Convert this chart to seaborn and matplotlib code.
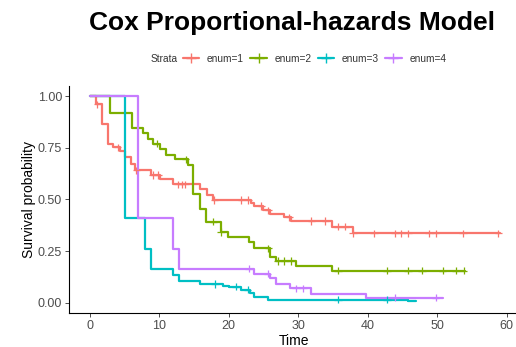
import numpy as np
import pandas as pd
import matplotlib
matplotlib.use("Agg")
import matplotlib.pyplot as plt
from matplotlib.lines import Line2D
import seaborn as sns

# ---------------- data ----------------
strata = ["enum=1", "enum=2", "enum=3", "enum=4"]
colors = ["#F8766D", "#7CAE00", "#00BFC4", "#C77CFF"]

# event times and survival after each event
t1 = [0, 0.9, 1.8, 2.6, 3.4, 4.3, 5.0, 5.9, 6.5, 8.8, 10.1, 12.0, 15.8, 16.8, 17.7,
      23.2, 23.7, 24.9, 26.0, 28.0, 28.9, 34.8, 37.9]
s1 = [1.0, 0.961, 0.868, 0.771, 0.752, 0.734, 0.706, 0.671, 0.642, 0.618, 0.597, 0.573,
      0.553, 0.521, 0.497, 0.484, 0.468, 0.448, 0.429, 0.413, 0.395, 0.368, 0.336]
c1 = [1.1, 4.0, 6.7, 9.1, 9.8, 12.7, 13.2, 13.7, 17.9, 21.8, 22.8, 24.7, 25.7, 28.7,
      31.9, 33.9, 35.7, 36.8, 37.9, 40.9, 43.9, 44.8, 45.8, 48.8, 49.8, 53.7, 58.8]
end1 = 59.0

t2 = [0, 2.9, 6.0, 7.7, 8.4, 9.1, 10.1, 11.0, 12.2, 14.1, 14.9, 15.8, 16.7, 18.9, 19.9,
      22.9, 23.7, 25.9, 26.8, 29.7, 34.9]
s2 = [1.0, 0.921, 0.847, 0.820, 0.795, 0.771, 0.744, 0.718, 0.695, 0.666, 0.529, 0.455,
      0.392, 0.343, 0.316, 0.295, 0.263, 0.222, 0.202, 0.179, 0.155]
c2 = [9.6, 13.8, 17.8, 18.9, 25.7, 27.1, 28.0, 28.9, 35.7, 42.8, 45.8, 47.8, 50.8, 52.7, 53.8]
end2 = 54.0

t3 = [0, 5.0, 7.9, 8.8, 12.0, 12.9, 15.9, 19.1, 20.1, 21.8, 23.0, 23.7, 25.7, 45.8]
s3 = [1.0, 0.410, 0.258, 0.164, 0.134, 0.103, 0.091, 0.083, 0.077, 0.063, 0.045, 0.027,
      0.014, 0.007]
c3 = [18.0, 21.0, 22.7, 35.7, 42.8]
end3 = 46.9

t4 = [0, 7.0, 12.0, 12.9, 23.7, 26.0, 26.8, 28.8, 31.9, 39.8]
s4 = [1.0, 0.410, 0.258, 0.165, 0.141, 0.118, 0.092, 0.069, 0.044, 0.024]
c4 = [22.9, 25.6, 29.7, 30.7, 43.9, 49.8]
end4 = 50.8

x_ticks = [0, 10, 20, 30, 40, 50, 60]
y_ticks = [0.00, 0.25, 0.50, 0.75, 1.00]
y_ticklabels = ["0.00", "0.25", "0.50", "0.75", "1.00"]

title = "Cox Proportional-hazards Model"
xlabel = "Time"
ylabel = "Survival probability"
legend_title = "Strata"

# ---------------- build tables ----------------
curve_rows = []
cens_rows = []
for name, tt, ss, cc, te in [(strata[0], t1, s1, c1, end1), (strata[1], t2, s2, c2, end2),
                             (strata[2], t3, s3, c3, end3), (strata[3], t4, s4, c4, end4)]:
    for a, b in zip(tt, ss):
        curve_rows.append((name, a, b))
    curve_rows.append((name, te, ss[-1]))
    tt_arr = np.array(tt)
    for c in cc:
        idx = np.searchsorted(tt_arr, c, side="right") - 1
        cens_rows.append((name, c, ss[idx]))
curves = pd.DataFrame(curve_rows, columns=["strata", "time", "surv"])
cens = pd.DataFrame(cens_rows, columns=["strata", "time", "surv"])

# ---------------- plot ----------------
sns.set_theme(style="white")
plt.rcParams["font.family"] = ["Liberation Sans", "DejaVu Sans"]

W, H = 516, 347
fig = plt.figure(figsize=(W / 100, H / 100), dpi=100)
ax_l, ax_r, ax_t, ax_b = 69, 515, 86, 313
ax = fig.add_axes([ax_l / W, 1 - ax_b / H, (ax_r - ax_l) / W, (ax_b - ax_t) / H])

palette = dict(zip(strata, colors))
sns.lineplot(data=curves, x="time", y="surv", hue="strata", palette=palette,
             drawstyle="steps-post", estimator=None, sort=False, linewidth=1.6,
             legend=False, ax=ax)
sns.scatterplot(data=cens, x="time", y="surv", hue="strata", palette=palette,
                marker="+", s=28, linewidth=0.9, legend=False, ax=ax, zorder=3)

ax.set_xlim(-3.0, 61.2)
ax.set_ylim(-0.05, 1.05)
ax.set_xticks(x_ticks)
ax.set_xticklabels([str(v) for v in x_ticks])
ax.set_yticks(y_ticks)
ax.set_yticklabels(y_ticklabels)
ax.tick_params(axis="both", which="both", length=3, width=0.6, color="#333333",
               labelsize=9, labelcolor="#4D4D4D", pad=2, direction="out",
               bottom=True, left=True)
for sp in ["top", "right"]:
    ax.spines[sp].set_visible(False)
for sp in ["left", "bottom"]:
    ax.spines[sp].set_color("#000000")
    ax.spines[sp].set_linewidth(0.8)
ax.set_xlabel(xlabel, fontsize=10, color="#000000")
ax.set_ylabel(ylabel, fontsize=10, color="#000000")
ax.xaxis.set_label_coords(0.505, -0.092)
ax.yaxis.set_label_coords(-0.074, 0.5)
ax.grid(False)

fig.text(292 / W, 1 - 23 / H, title, ha="center", va="center", fontsize=19,
         fontweight="bold", color="#000000")

handles = [Line2D([0], [0], color=c, lw=1.6, marker="+", markersize=7, markeredgewidth=1.0)
           for c in colors]
fig.text(151 / W, 1 - 59 / H, legend_title, ha="left", va="center", fontsize=7.3,
         color="#333333")
leg = fig.legend(handles, strata, loc="center left", bbox_to_anchor=(183 / W, 1 - 59 / H),
                 ncol=4, frameon=False, fontsize=7.3, handlelength=1.6, handletextpad=0.75,
                 columnspacing=0.65, borderaxespad=0, borderpad=0)
for txt in leg.get_texts():
    txt.set_color("#333333")

fig.savefig("out.png", dpi=100)
